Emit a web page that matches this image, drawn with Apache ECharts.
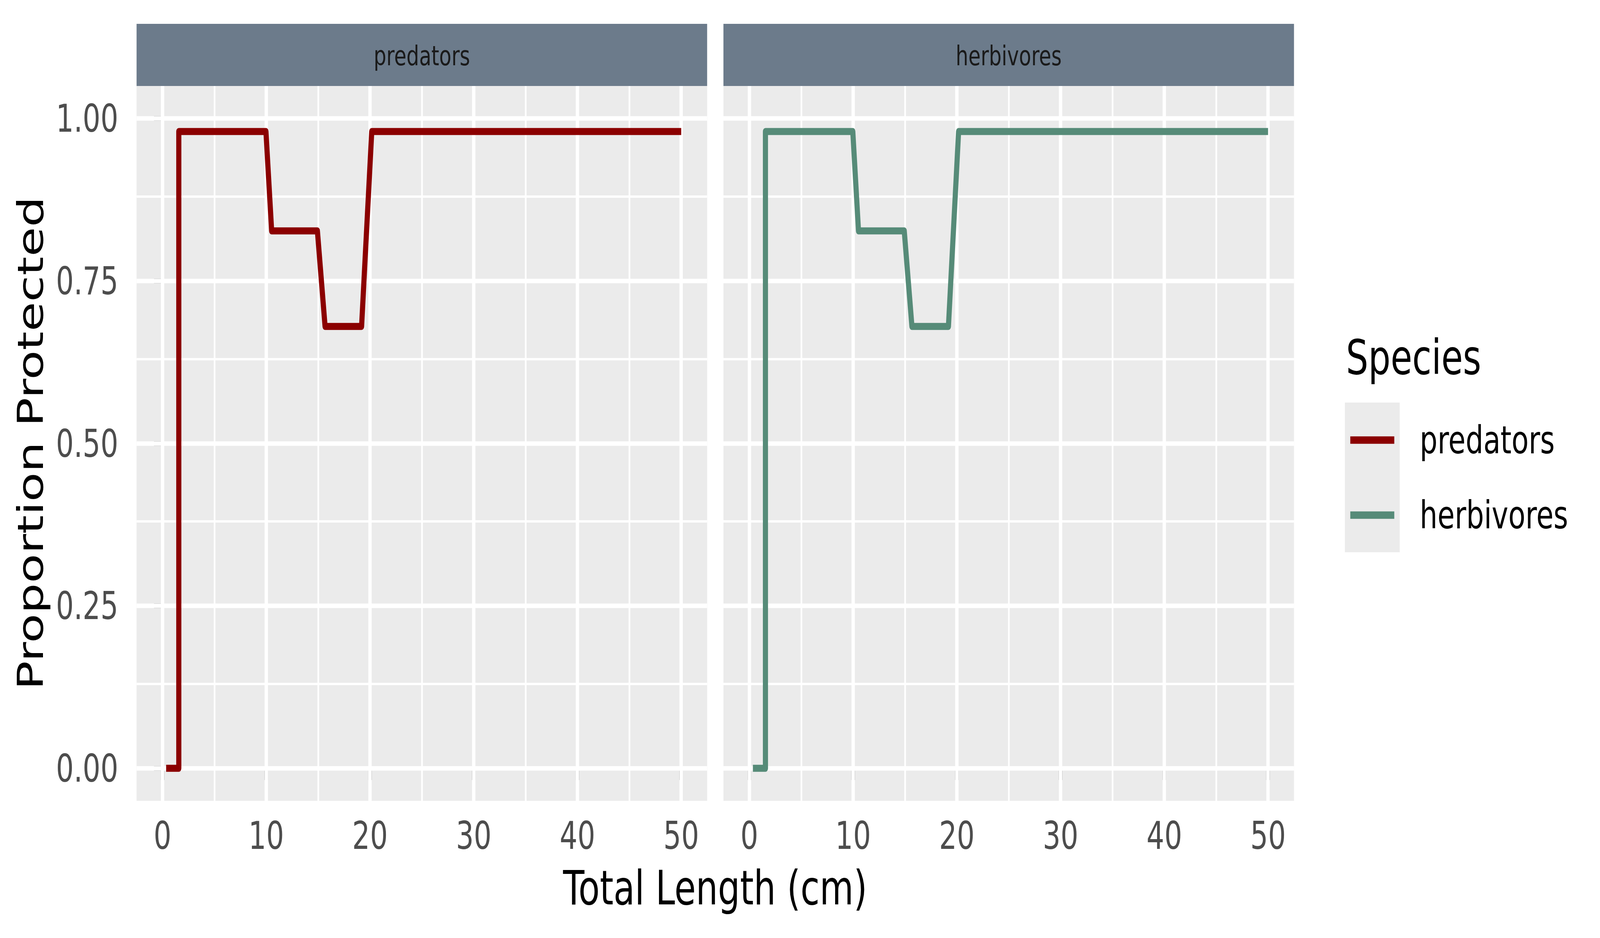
<!DOCTYPE html>
<html>
<head>
<meta charset="utf-8">
<script src="https://cdn.jsdelivr.net/npm/echarts@6/dist/echarts.min.js"></script>
<style>
html,body{margin:0;padding:0;background:#fff;overflow:hidden;}
#chart{width:5600px;height:2400px;transform-origin:0 0;}
</style>
</head>
<body>
<div id="chart"></div>
<script>
// ---- data ----
const panels = ['predators', 'herbivores'];
const speciesColors = ['#8B0000', '#568B78'];
const predatorsLength = [0.35, 1.57, 1.57, 9.97, 10.52, 14.93, 15.67, 19.19, 20.17, 50];
const predatorsProp   = [0, 0, 0.98, 0.98, 0.827, 0.827, 0.68, 0.68, 0.98, 0.98];
const herbivoresLength = [0.34, 1.55, 1.55, 9.97, 10.52, 14.93, 15.67, 19.19, 20.17, 50];
const herbivoresProp   = [0, 0, 0.98, 0.98, 0.827, 0.827, 0.68, 0.68, 0.98, 0.98];
const xTicks = [0, 10, 20, 30, 40, 50];
const xMinor = [5, 15, 25, 35, 45];
const yTicks = [0, 0.25, 0.5, 0.75, 1.0];
const yMinor = [0.125, 0.375, 0.625, 0.875];
const xTitle = 'Total Length (cm)';
const yTitle = 'Proportion Protected';
const legendTitle = 'Species';

// ---- fit the 5600x2400 design into the actual window ----
const DW = 5600, DH = 2400;
const el = document.getElementById('chart');
const sx = (window.innerWidth || DW) / DW, sy = (window.innerHeight || DH) / DH;
if (Math.abs(sx - 1) > 1e-3 || Math.abs(sy - 1) > 1e-3) {
  el.style.transform = 'scale(' + sx + ',' + sy + ')';
}

// ---- layout ----
const FONT = 'DejaVu Sans';
const panelW = 1997, panelH = 1829, panelTop = 220;
const panelLefts = [478, 2532];
const stripTop = 61, stripH = 159;

const seriesPts = [
  predatorsLength.map((x, i) => [x, predatorsProp[i]]),
  herbivoresLength.map((x, i) => [x, herbivoresProp[i]])
];

const grids = [], xAxes = [], yAxes = [], series = [], graphics = [];
panels.forEach((name, k) => {
  grids.push({left: panelLefts[k], top: panelTop, width: panelW, height: panelH,
    show: true, backgroundColor: '#EBEBEB', borderWidth: 0, outerBoundsMode: 'none', containLabel: false});
  xAxes.push({type: 'value', gridIndex: k, min: -2.5, max: 52.5,
    axisLine: {show: false}, splitLine: {show: false},
    axisTick: {show: true, customValues: xTicks, length: 30, inside: false, lineStyle: {color: '#333333', width: 11.7}},
    axisLabel: {show: true, customValues: xTicks, margin: 40, color: '#4D4D4D', fontSize: 98, fontFamily: FONT,
      formatter: v => String(v)}
  });
  yAxes.push({type: 'value', gridIndex: k, min: -0.05, max: 1.05,
    axisLine: {show: false}, splitLine: {show: false},
    axisTick: {show: k === 0, customValues: yTicks, length: 30, lineStyle: {color: '#333333', width: 11.7}},
    axisLabel: {show: k === 0, customValues: yTicks, margin: 64, color: '#4D4D4D', fontSize: 98, fontFamily: FONT,
      formatter: v => v.toFixed(2)}
  });
  const gl = [];
  xMinor.forEach(v => gl.push({xAxis: v, lineStyle: {width: 5.9}}));
  yMinor.forEach(v => gl.push({yAxis: v, lineStyle: {width: 5.9}}));
  xTicks.forEach(v => gl.push({xAxis: v, lineStyle: {width: 11.7}}));
  yTicks.forEach(v => gl.push({yAxis: v, lineStyle: {width: 11.7}}));
  series.push({type: 'line', name: '__grid' + k, xAxisIndex: k, yAxisIndex: k, data: [], z: 1, silent: true,
    markLine: {silent: true, z: 1, symbol: ['none', 'none'], animation: false, label: {show: false},
      emphasis: {disabled: true},
      lineStyle: {color: '#FFFFFF', type: 'solid', opacity: 1}, data: gl}
  });
  series.push({type: 'line', name: name, xAxisIndex: k, yAxisIndex: k, data: seriesPts[k], z: 3,
    showSymbol: false, symbol: 'none', silent: true, color: speciesColors[k],
    lineStyle: {color: speciesColors[k], width: 18, cap: 'butt', join: 'round'}
  });
  graphics.push({type: 'rect', shape: {x: panelLefts[k], y: stripTop, width: panelW, height: stripH},
    style: {fill: '#6C7B8B'}, silent: true});
  graphics.push({type: 'text', x: panelLefts[k] + panelW / 2, y: 142,
    style: {text: name, fill: '#1A1A1A', font: '70px "' + FONT + '"', align: 'center', verticalAlign: 'middle'}, silent: true});
});

graphics.push({type: 'text', x: 2503, y: 2272,
  style: {text: xTitle, fill: '#000000', font: '122px "' + FONT + '"', align: 'center', verticalAlign: 'middle'}, silent: true});
graphics.push({type: 'text', x: 107, y: 1134, rotation: Math.PI / 2,
  style: {text: yTitle, fill: '#000000', font: '123px "' + FONT + '"', align: 'center', verticalAlign: 'middle'}, silent: true});
graphics.push({type: 'text', x: 4711, y: 914,
  style: {text: legendTitle, fill: '#000000', font: '123px "' + FONT + '"', align: 'left', verticalAlign: 'middle'}, silent: true});
graphics.push({type: 'rect', shape: {x: 4707, y: 1030, width: 192, height: 383},
  style: {fill: '#EBEBEB'}, silent: true, z: 0});

const chart = echarts.init(el, null, {renderer: 'svg', width: DW, height: DH});
chart.setOption({
  animation: false,
  backgroundColor: '#FFFFFF',
  grid: grids,
  xAxis: xAxes,
  yAxis: yAxes,
  legend: {
    data: panels, orient: 'vertical', left: 4726, top: 1076, padding: 0,
    itemWidth: 154, itemHeight: 19, itemGap: 92, icon: 'rect', selectedMode: false,
    textStyle: {fontSize: 98, fontFamily: FONT, color: '#000000', lineHeight: 100, padding: [0, 0, 0, 84]}
  },
  graphic: graphics,
  series: series
});
</script>
</body>
</html>
